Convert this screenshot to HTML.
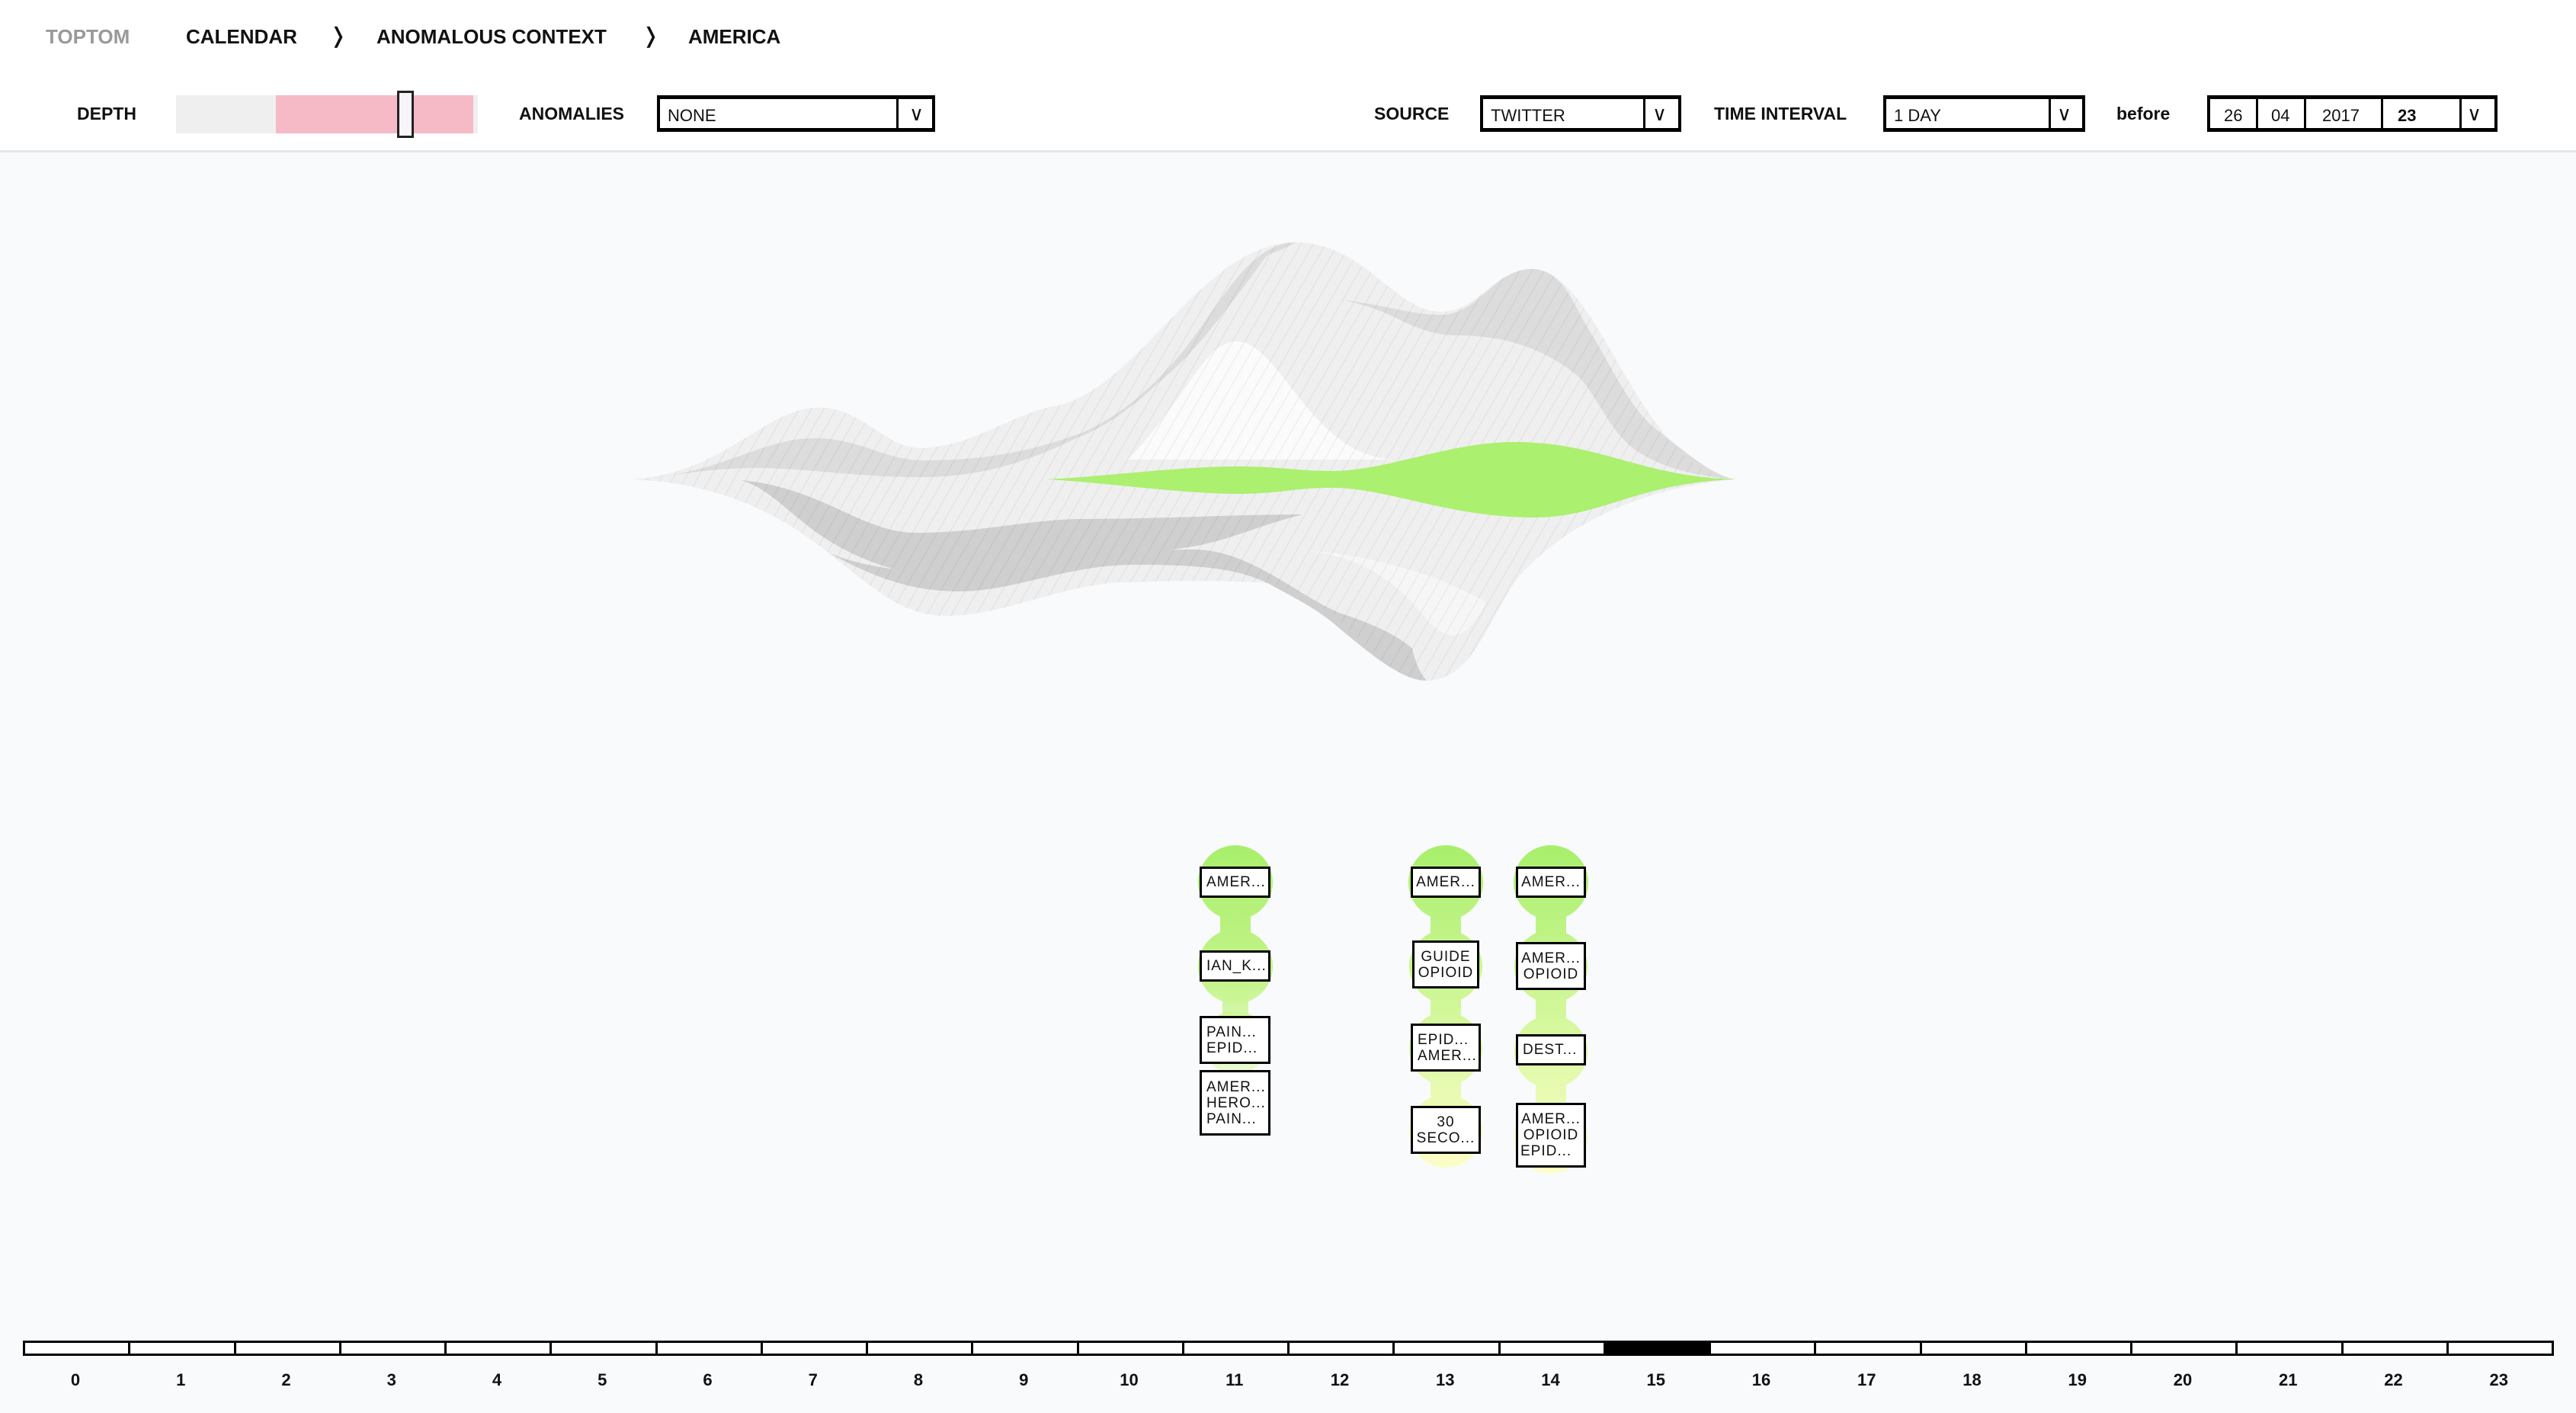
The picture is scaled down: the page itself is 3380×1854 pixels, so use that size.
<!DOCTYPE html>
<html><head><meta charset="utf-8">
<style>
*{margin:0;padding:0;box-sizing:border-box}
body{width:3380px;height:1854px;background:#f9fafc;position:relative;overflow:hidden;font-family:"Liberation Sans",sans-serif}
#hdr{position:absolute;left:0;top:0;width:3380px;height:200px;background:#fff;border-bottom:3px solid #e6e7ea}
.t{position:absolute;font-weight:bold;font-size:26px;color:#111;white-space:nowrap;line-height:1}
.sel{position:absolute;border:4px solid #000;border-top-width:5px;border-bottom-width:5px;background:#fff;height:48px}
.sel span{position:absolute;top:9px;font-size:22px;color:#111}
.dv{position:absolute;top:0;bottom:0;border-left:3px solid #000}
.node{position:absolute;border:3px solid #000;background:#fff;font-size:19px;letter-spacing:1px;line-height:21px;color:#111;text-align:center;display:flex;align-items:center;justify-content:center;flex-direction:column}
.node.l{align-items:flex-start;padding-left:6px;text-align:left}
.cell{position:absolute;top:1759px;height:20px;border:3px solid #000;background:#fff}
.lab{position:absolute;top:1798px;font-weight:bold;font-size:22px;width:60px;text-align:center;color:#111}
</style></head><body>
<div id="hdr"></div>
<div class="t" style="left:60px;top:35px;color:#999">TOPTOM</div>
<div class="t" style="left:244px;top:35px">CALENDAR</div>
<div class="t" style="left:432px;top:33px;font-weight:normal;font-size:28px">&#x276D;</div>
<div class="t" style="left:494px;top:35px">ANOMALOUS CONTEXT</div>
<div class="t" style="left:842px;top:33px;font-weight:normal;font-size:28px">&#x276D;</div>
<div class="t" style="left:903px;top:35px">AMERICA</div>

<div class="t" style="left:101px;top:138px;font-size:23px">DEPTH</div>
<div style="position:absolute;left:231px;top:125px;width:396px;height:50px;background:#efefef"></div>
<div style="position:absolute;left:362px;top:125px;width:259px;height:50px;background:#f5bac6"></div>
<div style="position:absolute;left:521px;top:119px;width:22px;height:62px;border:3px solid #222;background:#f6f6fa"></div>

<div class="t" style="left:681px;top:138px;font-size:23px">ANOMALIES</div>
<div class="sel" style="left:862px;top:125px;width:365px"><span style="left:10px">NONE</span><div class="dv" style="left:310px"></div><span style="left:327px;top:4px;font-size:26px">&#x2228;</span></div>

<div class="t" style="left:1803px;top:138px;font-size:23px">SOURCE</div>
<div class="sel" style="left:1942px;top:125px;width:264px"><span style="left:10px">TWITTER</span><div class="dv" style="left:210px"></div><span style="left:222px;top:4px;font-size:26px">&#x2228;</span></div>

<div class="t" style="left:2249px;top:138px;font-size:23px">TIME INTERVAL</div>
<div class="sel" style="left:2471px;top:125px;width:265px"><span style="left:10px">1 DAY</span><div class="dv" style="left:213px"></div><span style="left:224px;top:4px;font-size:26px">&#x2228;</span></div>

<div class="t" style="left:2777px;top:138px;font-size:23px">before</div>
<div class="sel" style="left:2896px;top:125px;width:381px">
<span style="left:18px">26</span><div class="dv" style="left:60px"></div>
<span style="left:80px">04</span><div class="dv" style="left:123px"></div>
<span style="left:147px">2017</span><div class="dv" style="left:224px"></div>
<span style="left:246px;font-weight:bold">23</span><div class="dv" style="left:327px"></div>
<span style="left:337px;top:4px;font-size:26px">&#x2228;</span></div>

<svg style="position:absolute;left:0;top:0" width="3380" height="1854">
<defs>
<pattern id="h" width="14" height="14" patternUnits="userSpaceOnUse" patternTransform="rotate(30)">
<line x1="0" y1="0" x2="0" y2="14" stroke="rgba(0,0,0,0.07)" stroke-width="2"/></pattern>
<linearGradient id="g1" x1="0" y1="1110" x2="0" y2="1500" gradientUnits="userSpaceOnUse">
<stop offset="0" stop-color="#a8ef6c"/><stop offset="0.45" stop-color="#c4f48a"/><stop offset="1" stop-color="#fbfee0" stop-opacity="0.4"/></linearGradient>
<linearGradient id="g2" x1="0" y1="1110" x2="0" y2="1540" gradientUnits="userSpaceOnUse">
<stop offset="0" stop-color="#a8ef6c"/><stop offset="0.5" stop-color="#d2f79a"/><stop offset="1" stop-color="#fdfec8"/></linearGradient>
</defs>
<path d="M829,629 C950,620 1000,540 1068,535 C1130,530 1160,590 1211,588 C1280,585 1330,540 1393,531 C1500,500 1580,318 1700,318 C1790,318 1830,409 1891,409 C1940,409 1960,353 2010,353 C2100,353 2150,620 2278,629 C2150,640 2050,690 1990,760 C1950,820 1930,893 1872,893 C1800,893 1760,770 1650,764 C1560,760 1500,764 1470,764 C1380,770 1320,808 1240,808 C1120,808 1080,640 829,629 Z" fill="#efefef"/>
<path d="M838,629 C950,620 1000,575 1068,575 C1130,575 1160,604 1211,604 C1300,604 1360,590 1422,567 C1480,540 1520,500 1556,456 C1600,400 1640,318 1700,318 C1680,330 1670,330 1661,337 C1600,420 1560,470 1527,496 C1480,540 1450,560 1412,575 C1340,610 1280,626 1211,626 C1120,626 1060,614 991,614 C930,614 880,625 838,629 Z" fill="#dcdcdc"/>
<path d="M1757,393 C1820,400 1850,413 1891,413 C1940,413 1960,353 2010,353 C2050,353 2065,400 2082,428 C2120,490 2140,540 2178,567 C2220,600 2250,625 2278,629 C2220,625 2170,610 2140,586 C2110,560 2095,520 2073,496 C2020,450 1960,440 1910,440 C1870,440 1840,420 1814,409 C1790,400 1770,395 1757,393 Z" fill="#dcdcdc"/>
<path d="M972,630 C1080,640 1130,699 1202,699 C1290,699 1350,681 1422,681 C1520,681 1620,675 1709,675 C1650,690 1610,710 1565,717 C1450,735 1330,758 1259,758 C1180,758 1120,730 1087,709 C1040,680 1010,640 972,630 Z" fill="#cfcfcf"/>
<path d="M1087,725 C1150,760 1200,776 1259,776 C1330,776 1400,741 1489,741 C1570,741 1620,745 1661,764 C1700,785 1730,800 1757,824 C1800,860 1840,893 1872,893 C1860,880 1855,860 1853,851 C1830,830 1790,815 1757,804 C1700,780 1640,721 1565,721 C1450,721 1340,752 1259,752 C1180,752 1120,740 1087,725 Z" fill="#cfcfcf"/>
<path d="M1480,603 C1560,520 1580,448 1623,448 C1680,448 1720,600 1830,603 Z" fill="#fbfbfb"/>
<path d="M1700,722 C1780,725 1830,760 1870,810 C1895,840 1920,850 1950,790 C1900,760 1800,725 1700,722 Z" fill="#f6f6f6"/>
<path d="M829,629 C950,620 1000,540 1068,535 C1130,530 1160,590 1211,588 C1280,585 1330,540 1393,531 C1500,500 1580,318 1700,318 C1790,318 1830,409 1891,409 C1940,409 1960,353 2010,353 C2100,353 2150,620 2278,629 C2150,640 2050,690 1990,760 C1950,820 1930,893 1872,893 C1800,893 1760,770 1650,764 C1560,760 1500,764 1470,764 C1380,770 1320,808 1240,808 C1120,808 1080,640 829,629 Z" fill="url(#h)"/>
<path d="M1374,629 C1450,625 1550,612 1623,612 C1680,612 1700,618 1747,618 C1820,618 1900,580 1987,580 C2100,580 2150,625 2278,629 C2150,633 2100,679 2015,679 C1900,679 1820,640 1747,640 C1700,640 1680,648 1623,648 C1550,648 1450,633 1374,629 Z" fill="#abf06f"/>

<g fill="url(#g1)">
<circle cx="1621" cy="1158" r="49"/><circle cx="1621" cy="1268" r="49"/><rect x="1601" y="1158" width="40" height="110"/>
<circle cx="1621" cy="1368" r="42"/><rect x="1604" y="1268" width="34" height="100"/>
</g>
<g fill="url(#g2)">
<circle cx="1897" cy="1158" r="49"/><circle cx="1897" cy="1268" r="48"/><circle cx="1897" cy="1376" r="48"/><circle cx="1897" cy="1484" r="48"/>
<rect x="1877" y="1158" width="40" height="326"/>
<circle cx="2035" cy="1158" r="49"/><circle cx="2035" cy="1268" r="48"/><circle cx="2035" cy="1380" r="48"/><circle cx="2035" cy="1492" r="48"/>
<rect x="2015" y="1158" width="40" height="334"/>
</g>
</svg>

<div class="node l" style="left:1574px;top:1137px;width:93px;height:41px">AMER...</div>
<div class="node l" style="left:1574px;top:1247px;width:93px;height:41px">IAN_K...</div>
<div class="node l" style="left:1574px;top:1333px;width:93px;height:63px">PAIN...<br>EPID...</div>
<div class="node l" style="left:1574px;top:1404px;width:93px;height:86px">AMER...<br>HERO...<br>PAIN...</div>

<div class="node" style="left:1851px;top:1137px;width:92px;height:41px">AMER...</div>
<div class="node" style="left:1853px;top:1234px;width:88px;height:63px">GUIDE<br>OPIOID</div>
<div class="node l" style="left:1851px;top:1343px;width:92px;height:63px">EPID...<br>AMER...</div>
<div class="node" style="left:1851px;top:1451px;width:92px;height:63px">30<br>SECO...</div>

<div class="node" style="left:1989px;top:1137px;width:92px;height:41px">AMER...</div>
<div class="node" style="left:1989px;top:1236px;width:92px;height:63px">AMER...<br>OPIOID</div>
<div class="node l" style="left:1989px;top:1357px;width:92px;height:41px">DEST...</div>
<div class="node" style="left:1989px;top:1447px;width:92px;height:85px">AMER...<br>OPIOID<br><span style="align-self:flex-start;padding-left:3px">EPID...</span></div>

<div id="tl"></div>
<script>
var s='';for(var i=0;i<24;i++){var x=30+i*138.25;
s+='<div class="cell" style="left:'+x+'px;width:'+141.25+'px;'+(i==15?'background:#000':'')+'"></div>';
s+='<div class="lab" style="left:'+(x+69-30)+'px">'+i+'</div>';}
document.getElementById('tl').innerHTML=s;
</script>
</body></html>
